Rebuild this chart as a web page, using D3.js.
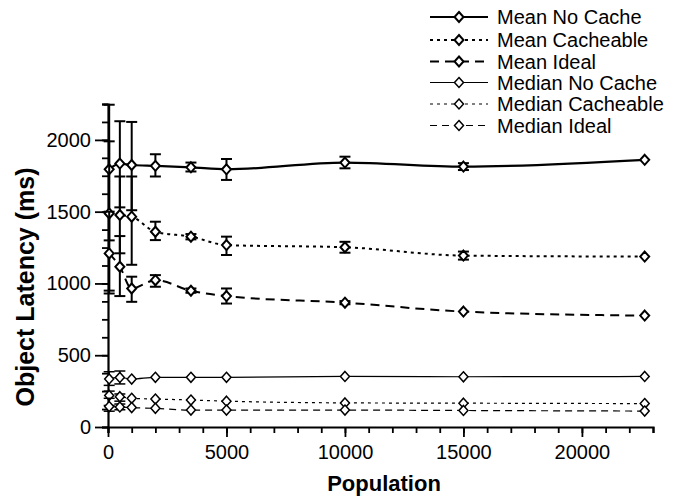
<!DOCTYPE html>
<html>
<head>
<meta charset="utf-8">
<script src="https://cdn.jsdelivr.net/npm/d3@7"></script>
<style>
  body { margin: 0; background: #fff; }
  svg { display: block; }
  text { font-family: "Liberation Sans", Arial, Helvetica, sans-serif; fill: #000; }
</style>
</head>
<body>
<svg id="chart" width="678" height="496"></svg>
<script>
// ---- data ----
const population = [50, 500, 1000, 2000, 3500, 5000, 10000, 15000, 22650];

const meanNoCache     = [1795, 1835, 1825, 1819, 1809, 1795, 1842, 1814, 1861];
const meanNoCacheLo   = [1300, 1530, 1510, 1745, 1780, 1721, 1802, 1790, null];
const meanNoCacheHi   = [2245, 2130, 2125, 1900, 1842, 1867, 1883, 1838, null];

const meanCacheable   = [1488, 1477, 1465, 1360, 1326, 1267, 1252, 1194, 1187];
const meanCacheableLo = [930, 1210, 1130, 1302, 1307, 1198, 1214, 1166, null];
const meanCacheableHi = [1990, 1745, 1745, 1430, 1344, 1326, 1290, 1222, null];

const meanIdeal       = [1209, 1116, 965, 1023, 949, 912, 866, 804, 776];
const meanIdealLo     = [950, 912, 872, 977, 935, 860, 855, null, null];
const meanIdealHi     = [1500, 1330, 1047, 1058, 965, 965, 877, null, null];

const medianNoCache   = [335, 345, 334, 346, 346, 346, 352, 350, 352];
const medianNoCacheLo = [290, 300, null, null, null, null, null, null, null];
const medianNoCacheHi = [385, 390, null, null, null, null, null, null, null];

const medianCacheable   = [220, 211, 200, 195, 188, 180, 168, 166, 163];
const medianCacheableLo = [150, 180, null, null, null, null, null, null, null];
const medianCacheableHi = [250, 230, null, null, null, null, null, null, null];

const medianIdeal     = [142, 140, 135, 130, 118, 118, 118, 115, 111];
const medianIdealLo   = [110, 120, null, null, null, null, null, null, null];
const medianIdealHi   = [200, 160, null, null, null, null, null, null, null];

const seriesNames = ["Mean No Cache", "Mean Cacheable", "Mean Ideal",
                     "Median No Cache", "Median Cacheable", "Median Ideal"];

const xMajorTicks = [0, 5000, 10000, 15000, 20000];
const yMajorTicks = [0, 500, 1000, 1500, 2000];

// ---- styles (not data) ----
const styles = [
  { width: 2.2, dash: null,  mw: 2 },
  { width: 2.0, dash: "3,4", mw: 2 },
  { width: 2.0, dash: "9,6", mw: 2 },
  { width: 1.2, dash: null,  mw: 1.5 },
  { width: 1.2, dash: "3,4", mw: 1.5 },
  { width: 1.2, dash: "7,5", mw: 1.5 }
];

const series = [
  { v: meanNoCache, lo: meanNoCacheLo, hi: meanNoCacheHi },
  { v: meanCacheable, lo: meanCacheableLo, hi: meanCacheableHi },
  { v: meanIdeal, lo: meanIdealLo, hi: meanIdealHi },
  { v: medianNoCache, lo: medianNoCacheLo, hi: medianNoCacheHi },
  { v: medianCacheable, lo: medianCacheableLo, hi: medianCacheableHi },
  { v: medianIdeal, lo: medianIdealLo, hi: medianIdealHi }
].map((s, i) => ({ ...s, name: seriesNames[i], style: styles[i] }));

const svg = d3.select("#chart");

const x = d3.scaleLinear().domain([0, 23000]).range([108, 653]);
const y = d3.scaleLinear().domain([0, 2250]).range([427, 104]);

const diamond = (cx, cy) => `M${cx},${cy-5}L${cx+4.5},${cy}L${cx},${cy+5}L${cx-4.5},${cy}Z`;

// ---- axes ----
const xMinor = d3.range(0, 23001, 1000);
const yMinor = d3.range(0, 2251, 125);

svg.append("g").attr("transform", `translate(0,${y(0)})`)
  .call(d3.axisBottom(x).tickValues(xMinor).tickSize(6).tickFormat(""))
  .call(g => { g.selectAll("line").attr("stroke-width", 1.8); g.select(".domain").attr("stroke-width", 2.2); });
svg.append("g").attr("transform", `translate(0,${y(0)})`)
  .call(d3.axisBottom(x).tickValues(xMajorTicks).tickSize(10).tickPadding(8).tickFormat(d3.format("d")))
  .call(g => {
    g.select(".domain").remove();
    g.selectAll("line").attr("stroke-width", 1.8);
    g.selectAll("text").attr("font-size", 20).attr("font-family", "Liberation Sans, Arial, sans-serif");
  });

svg.append("g").attr("transform", `translate(${x(0)},0)`)
  .call(d3.axisLeft(y).tickValues(yMinor).tickSize(6).tickFormat(""))
  .call(g => { g.selectAll("line").attr("stroke-width", 1.8); g.select(".domain").attr("stroke-width", 2.2); });
svg.append("g").attr("transform", `translate(${x(0)},0)`)
  .call(d3.axisLeft(y).tickValues(yMajorTicks).tickSize(13).tickPadding(4).tickFormat(d3.format("d")))
  .call(g => {
    g.select(".domain").remove();
    g.selectAll("line").attr("stroke-width", 1.8);
    g.selectAll("text").attr("font-size", 20).attr("font-family", "Liberation Sans, Arial, sans-serif");
  });

// axis titles
svg.append("text")
  .attr("x", 384).attr("y", 491)
  .attr("text-anchor", "middle")
  .attr("font-size", 22).attr("font-weight", "bold")
  .text("Population");
svg.append("text")
  .attr("transform", "translate(34,287) rotate(-90)")
  .attr("text-anchor", "middle")
  .attr("font-size", 25).attr("font-weight", "bold")
  .text("Object Latency (ms)");

// ---- series ----
const line = d3.line().x(d => x(d[0])).y(d => y(d[1])).curve(d3.curveMonotoneX);

series.forEach(s => {
  const g = svg.append("g");
  const pts = population.map((p, i) => [p, s.v[i]]);
  g.append("path")
    .datum(pts)
    .attr("d", line)
    .attr("fill", "none")
    .attr("stroke", "#000")
    .attr("stroke-width", s.style.width)
    .attr("stroke-dasharray", s.style.dash);

  // error bars
  population.forEach((p, i) => {
    if (s.lo[i] == null) return;
    const cx = x(p), y1 = y(s.lo[i]), y2 = y(s.hi[i]);
    g.append("line").attr("x1", cx).attr("x2", cx).attr("y1", y1).attr("y2", y2)
      .attr("stroke", "#000").attr("stroke-width", s.style.mw);
    [y1, y2].forEach(yy => g.append("line")
      .attr("x1", cx - 5.5).attr("x2", cx + 5.5).attr("y1", yy).attr("y2", yy)
      .attr("stroke", "#000").attr("stroke-width", s.style.mw));
  });

  g.selectAll("path.m").data(pts).enter().append("path")
    .attr("class", "m")
    .attr("d", d => diamond(x(d[0]), y(d[1])))
    .attr("fill", "#fff").attr("stroke", "#000").attr("stroke-width", s.style.mw);
});

// ---- legend ----
const legendRows = [17, 40, 61.5, 82.5, 104, 125.5];
series.forEach((s, i) => {
  const g = svg.append("g").attr("transform", `translate(0,${legendRows[i]})`);
  g.append("line").attr("x1", 430).attr("x2", 488).attr("y1", 0).attr("y2", 0)
    .attr("stroke", "#000").attr("stroke-width", s.style.width)
    .attr("stroke-dasharray", s.style.dash);
  g.append("path").attr("d", diamond(459, 0))
    .attr("fill", "#fff").attr("stroke", "#000").attr("stroke-width", s.style.mw);
  g.append("text").attr("x", 497).attr("y", 7)
    .attr("font-size", 20).text(s.name);
});
</script>
</body>
</html>
